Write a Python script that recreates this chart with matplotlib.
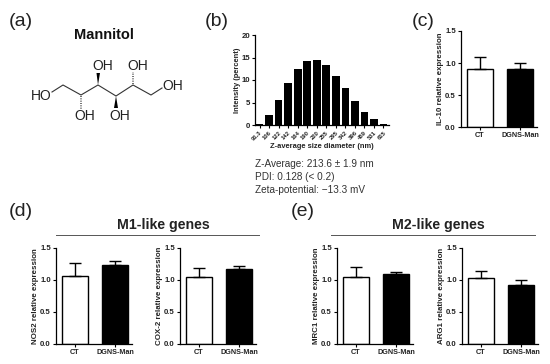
#!/usr/bin/python
# Panel figure: mannitol structure, size histogram and four expression bar plots
import matplotlib as mpl
mpl.use('Agg')
from matplotlib import pyplot as plt

plt.rcParams['font.family'] = ['Liberation Sans', 'DejaVu Sans']

W, H = 550.0, 364.0

# size distribution
sizeLabels = ['91.3', '106', '122', '142', '164', '190', '220', '255', '295', '342', '396', '459', '531', '615']
sizeValues = [0.2, 2.2, 5.6, 9.4, 12.5, 14.2, 14.4, 13.3, 11.0, 8.2, 5.3, 3.0, 1.3, 0.3]

# expression bars
groups = ['CT', 'DGNS-Man']
il10Mean = [0.91, 0.91]
il10Err = [0.18, 0.09]
nos2Mean = [1.07, 1.24]
nos2Err = [0.20, 0.06]
cox2Mean = [1.04, 1.175]
cox2Err = [0.14, 0.04]
mrc1Mean = [1.05, 1.09]
mrc1Err = [0.15, 0.035]
arg1Mean = [1.03, 0.925]
arg1Err = [0.11, 0.07]

# structure text
zetaLines = ['Z-Average: 213.6 \u00b1 1.9 nm', 'PDI: 0.128 (< 0.2)', 'Zeta-potential: \u221213.3 mV']

fig = plt.figure(figsize=(W / 100.0, H / 100.0), dpi=100, facecolor='w')


def addAxes(x0, y0, x1, y1):
    # pixel box, y counted from the top of the picture
    return fig.add_axes([x0 / W, 1 - y1 / H, (x1 - x0) / W, (y1 - y0) / H])


def label(x, y, s, **kw):
    fig.text(x / W, 1 - y / H, s, ha=kw.pop('ha', 'center'), va=kw.pop('va', 'center'), **kw)


def styleAxes(ax):
    ax.spines['top'].set_visible(False)
    ax.spines['right'].set_visible(False)
    ax.spines['left'].set_linewidth(0.9)
    ax.spines['bottom'].set_linewidth(0.9)
    ax.tick_params(length=2.5, width=0.8, pad=1.2)


def barPanel(box, means, errs, ylabel):
    ax = addAxes(*box)
    styleAxes(ax)
    ax.bar([0], means[0], width=0.65, color='w', edgecolor='k', linewidth=1.0)
    ax.bar([1], means[1], width=0.65, color='k', edgecolor='k', linewidth=1.0)
    ax.errorbar([0, 1], means, yerr=[[0, 0], errs], fmt='none', ecolor='k', elinewidth=1.0, capsize=4.5, capthick=1.0)
    ax.set_xlim(-0.475, 1.425)
    ax.set_ylim(0, 1.5)
    ax.set_yticks([0.0, 0.5, 1.0, 1.5])
    ax.set_yticklabels(['0.0', '0.5', '1.0', '1.5'], fontsize=5.6, fontweight='bold', color='#222222')
    ax.set_xticks([0, 1])
    ax.set_xticklabels(groups, fontsize=5.2, fontweight='bold', color='#222222')
    ax.set_ylabel(ylabel, fontsize=5.7, fontweight='bold', color='#222222', labelpad=0.5)
    return ax


# panel letters
label(9, 21, '(a)', fontsize=14, ha='left', color='#222222')
label(205, 22, '(b)', fontsize=14, ha='left', color='#222222')
label(412, 21, '(c)', fontsize=14, ha='left', color='#222222')
label(9, 211, '(d)', fontsize=14, ha='left', color='#222222')
label(291, 211, '(e)', fontsize=14, ha='left', color='#222222')

# (a) mannitol skeleton drawn on a full figure overlay
mol = fig.add_axes([0, 0, 1, 1], facecolor='none')
mol.set_xlim(0, W)
mol.set_ylim(H, 0)
mol.axis('off')
label(104, 35, 'Mannitol', fontsize=10.5, fontweight='bold', color='#111111')
chainX = [52, 63, 81, 98, 116, 133, 151, 162]
chainY = [92, 85, 95, 85, 96, 85, 95, 88]
mol.plot(chainX, chainY, color='#333333', lw=0.8)
# wedge bonds up/down
mol.fill([98, 96.5, 100], [85, 73, 73], color='k', lw=0)
mol.fill([116, 114, 118], [96, 108, 108], color='k', lw=0)
mol.plot([81, 81], [96, 110], color='#555555', lw=1.2, ls=(0, (0.6, 0.8)))
mol.plot([133, 133], [84, 72], color='#555555', lw=1.2, ls=(0, (0.6, 0.8)))
for x, y, s in [(41, 96, 'HO'), (173, 86, 'OH'), (103, 66, 'OH'), (138, 66, 'OH'), (85, 116, 'OH'), (120, 116, 'OH')]:
    label(x, y, s, fontsize=10, color='#222222')

# (b) size histogram
axB = addAxes(255, 35, 389, 125)
styleAxes(axB)
pos = list(range(len(sizeValues)))
axB.bar(pos, sizeValues, width=0.8, color='k')
axB.set_xlim(-0.48, 13.58)
axB.set_ylim(0, 20)
axB.set_yticks([0, 5, 10, 15, 20])
axB.set_yticklabels(['0', '5', '10', '15', '20'], fontsize=5.6, fontweight='bold', color='#222222')
axB.set_xticks(pos)
axB.set_xticklabels(sizeLabels, fontsize=4.2, fontweight='bold', rotation=45, ha='right', rotation_mode='anchor', color='#222222')
axB.tick_params(axis='y', length=2.5)
axB.set_ylabel('Intensity (percent)', fontsize=5.4, fontweight='bold', color='#222222', labelpad=0.5)
label(322, 147, 'Z-average size diameter (nm)', fontsize=5.4, fontweight='bold', color='#222222')
for yy, s in zip([164, 177, 190], zetaLines):
    label(255, yy, s, fontsize=7.2, ha='left', color='#333333')

# (c)
barPanel((461, 31, 537, 127), il10Mean, il10Err, 'IL-10 relative expression')

# (d)
barPanel((56, 248, 132, 344), nos2Mean, nos2Err, 'NOS2 relative expression')
barPanel((180, 248, 256, 344), cox2Mean, cox2Err, 'COX-2 relative expression')
label(163, 225, 'M1-like genes', fontsize=10.2, fontweight='bold', color='#222222')
mol.plot([56, 259], [235, 235], color='#555555', lw=0.7)

# (e)
barPanel((337, 248, 413, 344), mrc1Mean, mrc1Err, 'MRC1 relative expression')
barPanel((462, 248, 538, 344), arg1Mean, arg1Err, 'ARG1 relative expression')
label(438, 225, 'M2-like genes', fontsize=10.2, fontweight='bold', color='#222222')
mol.plot([331, 535], [235, 235], color='#555555', lw=0.7)

plt.savefig('out.png', dpi=100, facecolor='w')
